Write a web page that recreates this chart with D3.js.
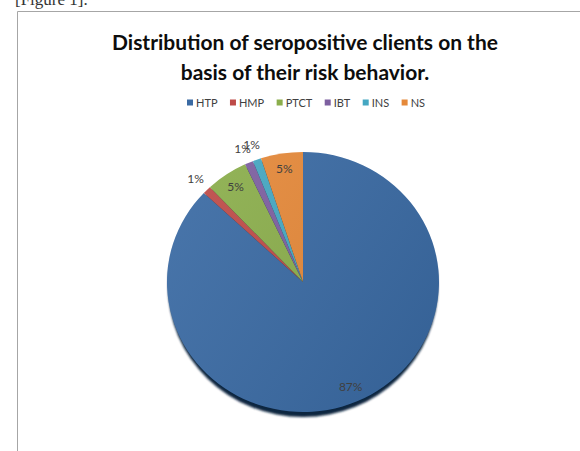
<!DOCTYPE html>
<html>
<head>
<meta charset="utf-8">
<script src="https://cdn.jsdelivr.net/npm/d3@7"></script>
<style>
  body { margin: 0; background: #fff; }
  svg { display: block; }
</style>
</head>
<body>
<div id="chart"></div>
<script>
// data
var categories = ["HTP", "HMP", "PTCT", "IBT", "INS", "NS"];
var values = [87, 1, 5, 1, 1, 5];
var colors = ["#3a6aa3", "#be4b48", "#8bae4c", "#7d5fa0", "#45a7c2", "#e5893a"];
var titleLines = ["Distribution of seropositive clients on the", "basis of their risk behavior."];

var width = 580, height = 451;
var cx = 303, cy = 282, rx = 136, ry = 130;

var svg = d3.select("#chart")
            .append("svg")
            .attr("width", width)
            .attr("height", height);

var defs = svg.append("defs");
var sheen = defs.append("linearGradient")
    .attr("id", "sheen")
    .attr("x1", "0%").attr("y1", "20%")
    .attr("x2", "100%").attr("y2", "80%");
sheen.append("stop").attr("offset", "0%").attr("stop-color", "#fff").attr("stop-opacity", 0.07);
sheen.append("stop").attr("offset", "100%").attr("stop-color", "#000").attr("stop-opacity", 0.08);
defs.append("filter").attr("id", "soft")
    .append("feGaussianBlur").attr("stdDeviation", 1.2);

// caption of the page, cut at the top
svg.append("text")
   .attr("x", 15)
   .attr("y", 5)
   .style("font-family", "Liberation Serif, serif")
   .style("font-size", "17px")
   .style("fill", "#333")
   .text("[Figure 1].");

// frame
svg.append("path")
   .attr("d", "M17.5,451 V11.5 H580")
   .attr("fill", "none")
   .attr("stroke", "#a6a6a6")
   .attr("stroke-width", 1);

// title
var title = svg.append("g");
titleLines.forEach(function(t, i) {
    title.append("text")
        .attr("x", 305)
        .attr("y", 50 + i * 30)
        .attr("text-anchor", "middle")
        .style("font-family", "Lato, Carlito, sans-serif")
        .style("font-weight", "bold")
        .style("font-size", "21px")
        .style("fill", "#0d0d0d")
        .text(t);
});
// fit the title width to the picture
var w0 = title.select("text").node().getComputedTextLength();
var fs = 21 * 386 / w0;
title.selectAll("text").style("font-size", fs + "px");

// legend
var color = d3.scaleOrdinal().domain(categories).range(colors);
var legend = svg.append("g").attr("transform", "translate(187,103)");
var items = [];
var used = 0;
categories.forEach(function(c) {
    var item = legend.append("g");
    item.append("rect")
        .attr("x", 0).attr("y", -3.5)
        .attr("width", 6).attr("height", 6)
        .attr("fill", color(c));
    var t = item.append("text")
        .attr("x", 9)
        .attr("y", 3.8)
        .style("font-family", "Lato, Carlito, sans-serif")
        .style("font-size", "11px")
        .style("fill", "#404040")
        .text(c);
    var w = 9 + t.node().getComputedTextLength();
    items.push({g: item, w: w});
    used += w;
});
var gap = (238 - used) / (categories.length - 1);
var lx = 0;
items.forEach(function(it) {
    it.g.attr("transform", "translate(" + lx + ",0)");
    lx += it.w + gap;
});

// pie
var pie = d3.pie().sort(null).startAngle(0).endAngle(2 * Math.PI);
var arcs = pie(values);
var arc = d3.arc().innerRadius(0).outerRadius(rx);

// dark rim under the tilted disc
svg.append("ellipse")
   .attr("cx", cx).attr("cy", cy + 4)
   .attr("rx", rx - 1).attr("ry", ry + 1)
   .attr("fill", "#0f2540")
   .attr("filter", "url(#soft)");

var disc = svg.append("g")
    .attr("transform", "translate(" + cx + "," + cy + ") scale(1," + (ry / rx) + ")");

disc.selectAll("path.slice")
    .data(arcs)
    .enter().append("path")
    .attr("class", "slice")
    .attr("d", arc)
    .attr("fill", function(d, i) { return color(categories[i]); });

disc.append("circle")
    .attr("r", rx)
    .attr("fill", "url(#sheen)");

// percent labels: inside for big slices, outside for small ones
var labelIn = d3.arc().innerRadius(120).outerRadius(120);
var labelOut = d3.arc().innerRadius(152).outerRadius(152);
var total = d3.sum(values);

svg.append("g")
   .selectAll("text")
   .data(arcs)
   .enter().append("text")
   .attr("transform", function(d) {
       var p = (d.value / total < 0.02 ? labelOut : labelIn).centroid(d);
       return "translate(" + (cx + p[0]) + "," + (cy + p[1] * ry / rx) + ")";
   })
   .attr("text-anchor", "middle")
   .attr("dy", "0.35em")
   .style("font-family", "Lato, Carlito, sans-serif")
   .style("font-size", "12px")
   .style("fill", "#404040")
   .text(function(d) { return Math.round(d.value / total * 100) + "%"; });
</script>
</body>
</html>
